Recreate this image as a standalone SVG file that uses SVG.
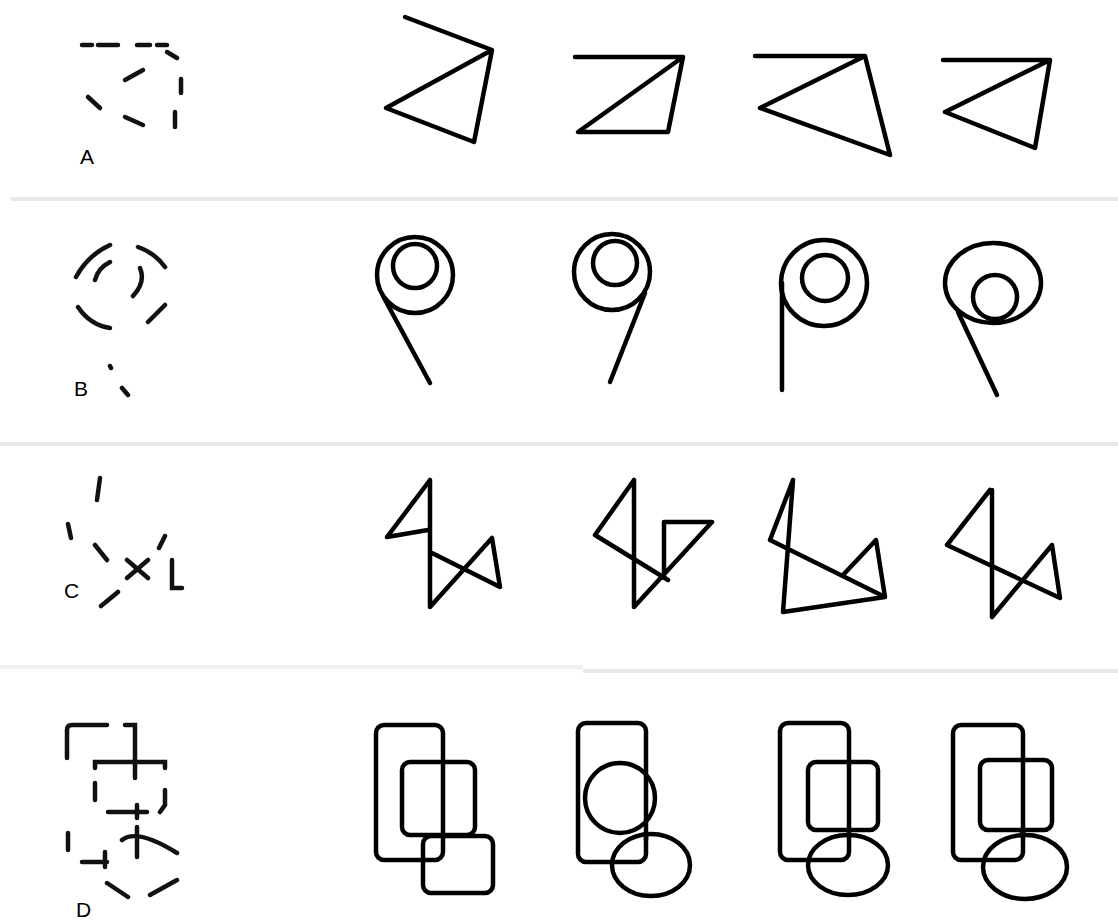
<svg xmlns="http://www.w3.org/2000/svg" width="1118" height="921" viewBox="0 0 1118 921">
<style>
.s{fill:none;stroke:#000;stroke-width:4.5;stroke-linejoin:round;stroke-linecap:round}
.f{fill:none;stroke:#111;stroke-width:4.5;stroke-linecap:round}
.sep{stroke:#e8e8e8;stroke-width:4}
.lbl{font-family:"Liberation Sans",Arial,sans-serif;font-size:21px;fill:#000}
</style>
<rect width="1118" height="921" fill="#fff"/>
<g id="separators">
<line class="sep" x1="11" y1="199" x2="1118" y2="199"/>
<line class="sep" x1="0" y1="444" x2="1118" y2="444"/>
<line class="sep" x1="0" y1="667" x2="583" y2="667" style="stroke:#f0f0f0"/>
<line class="sep" x1="583" y1="671" x2="1118" y2="671"/>
</g>
<g id="rowA">
<g id="fragA">
<path class="f" d="M82 45H92M98 45H118M137 45H150M157 45H167M167 52L177 58M125 80L143 70M181 79V93M88 97L100 108M125 117L143 125M175 112V127"/>
<text class="lbl" x="80" y="164">A</text>
</g>
<g id="A1"><path class="s" d="M405 17L492 50L386 108L474 142L492 50"/></g>
<g id="A2"><path class="s" d="M575 57H683L578 132H668L683 57"/></g>
<g id="A3"><path class="s" d="M755 56H865L760 108L890 155L865 56"/></g>
<g id="A4"><path class="s" d="M943 60H1050L945 112L1035 148L1050 60"/></g>
</g>
<g id="rowB">
<g id="fragB">
<path class="f" d="M110 245Q88 255 76 277M110 262Q98 268 95 280M138 247Q155 253 165 267M140 268Q146 282 133 296M78 307Q90 325 110 328M165 305L148 322M110 366L111 368M122 388L128 395"/>
<text class="lbl" x="74" y="396">B</text>
</g>
<g id="B1"><circle class="s" cx="415" cy="275" r="38"/><circle class="s" cx="415" cy="266" r="22"/><path class="s" d="M383 296L430 383"/></g>
<g id="B2"><circle class="s" cx="612" cy="272" r="38"/><circle class="s" cx="615" cy="263" r="22"/><path class="s" d="M645 293L610 382"/></g>
<g id="B3"><circle class="s" cx="824" cy="283" r="43"/><circle class="s" cx="825" cy="278" r="23"/><path class="s" d="M782 283V390"/></g>
<g id="B4"><ellipse class="s" cx="993" cy="283" rx="48" ry="40"/><circle class="s" cx="995" cy="297" r="22"/><path class="s" d="M958 312L997 395"/></g>
</g>
<g id="rowC">
<g id="fragC">
<path class="f" d="M100 478L97 500M68 524L71 538M95 545L107 560M127 560L148 578M127 578L148 560M159 548L165 536M172 560V588L182 588M101 606L118 592"/>
<text class="lbl" x="64" y="598">C</text>
</g>
<g id="C1"><path class="s" d="M428 530L387 537L430 480V607L492 538L500 587L432 553"/></g>
<g id="C2"><path class="s" d="M634 480L595 535L668 580M634 480V607L712 522H664V578"/></g>
<g id="C3"><path class="s" d="M793 480L770 540L885 597L876 540L843 575M793 480L783 612L885 597"/></g>
<g id="C4"><path class="s" d="M990 490L947 545L1060 598L1052 545L992 617V490"/></g>
</g>
<g id="rowD">
<g id="fragD">
<path class="f" d="M67 758V730Q67 725 72 725H107M125 725H135V778M95 768V762H165V768M95 783V800M165 790V805L160 812M108 812H147M137 805V818M68 833V850M82 862H107M105 852V867M122 840Q137 828 177 853M137 827V857M107 883L128 897M150 895L177 880"/>
<text class="lbl" x="76" y="917">D</text>
</g>
<g id="D1"><rect class="s" x="376" y="725" width="67" height="135" rx="8"/><rect class="s" x="402" y="762" width="73" height="73" rx="8"/><rect class="s" x="423" y="836" width="70" height="57" rx="8"/></g>
<g id="D2"><rect class="s" x="578" y="723" width="68" height="139" rx="8"/><circle class="s" cx="620" cy="798" r="35"/><path class="s" d="M646 833V840"/><ellipse class="s" cx="651" cy="865" rx="39" ry="31"/></g>
<g id="D3"><rect class="s" x="780" y="723" width="69" height="137" rx="8"/><rect class="s" x="808" y="762" width="70" height="68" rx="8"/><ellipse class="s" cx="848" cy="865" rx="40" ry="30"/></g>
<g id="D4"><rect class="s" x="953" y="725" width="70" height="135" rx="8"/><rect class="s" x="980" y="760" width="72" height="70" rx="8"/><path class="s" d="M1022 830V836"/><ellipse class="s" cx="1025" cy="867" rx="42" ry="32" fill="#fff"/></g>
</g>
</svg>
